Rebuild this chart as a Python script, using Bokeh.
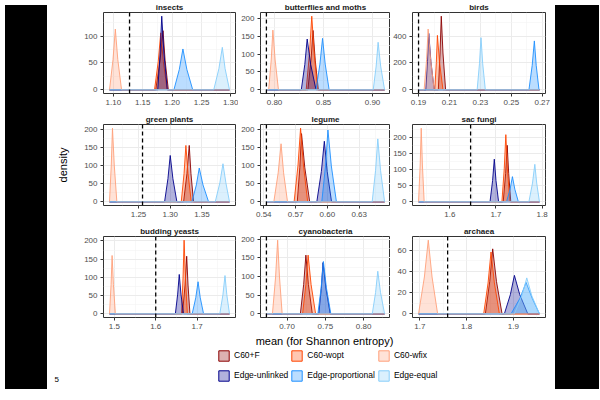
from bokeh.plotting import figure
from bokeh.models import (Range1d, FixedTicker, PrintfTickFormatter, ColumnDataSource,
                          Legend, LegendItem, Span, Div, Label)
from bokeh.layouts import row, column
from bokeh.embed import file_html
from bokeh.resources import INLINE

FONT = "Liberation Sans"

panels = ["insects", "butterflies and moths", "birds",
          "green plants", "legume", "sac fungi",
          "budding yeasts", "cyanobacteria", "archaea"]
models = ["C60+F", "C60-wopt", "C60-wfix", "Edge-unlinked", "Edge-proportional", "Edge-equal"]

# density grid range per panel and dashed reference value
range_lo = [1.0935, 0.7917, 0.1900, 1.2042, 0.5425, 1.5321, 1.4882, 0.6730, 1.6971]
range_hi = [1.2975, 0.9123, 0.2682, 1.3935, 0.6539, 1.7943, 1.7784, 0.8275, 1.9557]
ref_line = [1.1276, 0.7917, 0.1900, 1.2563, 0.5425, 1.6450, 1.6000, 0.6730, 1.7593]

# each curve: (left foot, left half-height, peak, right half-height, right foot, peak density)
c60_f = [(1.1721, 1.1795, 1.1845, 1.1880, 1.1935, 110), (0.8340, 0.8372, 0.8393, 0.8415, 0.8447, 166),
         (0.2028, 0.2039, 0.2047, 0.2058, 0.2075, 548), (1.3211, 1.3264, 1.3300, 1.3327, 1.3368, 157),
         (0.5716, 0.5740, 0.5756, 0.5787, 0.5833, 188), (1.7157, 1.7210, 1.7243, 1.7276, 1.7321, 175),
         (1.6647, 1.6709, 1.6749, 1.6781, 1.6827, 158), (0.7174, 0.7217, 0.7246, 0.7279, 0.7330, 157),
         (1.8400, 1.8494, 1.8557, 1.8637, 1.8757, 61.5)]
c60_wopt = [(1.1700, 1.1764, 1.1806, 1.1850, 1.1915, 106), (0.8323, 0.8357, 0.8380, 0.8404, 0.8440, 206),
            (0.2005, 0.2015, 0.2022, 0.2036, 0.2058, 405), (1.3174, 1.3218, 1.3247, 1.3281, 1.3332, 157),
            (0.5686, 0.5723, 0.5747, 0.5774, 0.5814, 203), (1.7129, 1.7180, 1.7214, 1.7248, 1.7300, 208),
            (1.6624, 1.6661, 1.6686, 1.6718, 1.6765, 202), (0.7203, 0.7246, 0.7275, 0.7314, 0.7373, 157),
            (1.8364, 1.8458, 1.8521, 1.8593, 1.8700, 58.5)]
c60_wfix = [(1.0935, 1.0995, 1.1034, 1.1076, 1.1140, 113), (0.7940, 0.7966, 0.7983, 0.8006, 0.8040, 167),
            (0.1936, 0.1952, 0.1962, 0.1978, 0.2001, 452), (1.2042, 1.2070, 1.2089, 1.2117, 1.2158, 205),
            (0.5495, 0.5536, 0.5563, 0.5587, 0.5624, 160), (1.5321, 1.5356, 1.5379, 1.5405, 1.5443, 228),
            (1.4882, 1.4920, 1.4945, 1.4977, 1.5024, 160), (0.6809, 0.6850, 0.6877, 0.6901, 0.6936, 197),
            (1.6971, 1.7096, 1.7179, 1.7260, 1.7379, 69.7)]
edge_unlinked = [(1.1755, 1.1796, 1.1823, 1.1860, 1.1918, 137), (0.8273, 0.8309, 0.8333, 0.8369, 0.8423, 142),
                 (0.1947, 0.1958, 0.1966, 0.1980, 0.2001, 420), (1.2911, 1.2964, 1.3000, 1.3042, 1.3105, 129),
                 (0.5900, 0.5943, 0.5971, 0.5998, 0.6039, 167), (1.6871, 1.6927, 1.6964, 1.7000, 1.7057, 132),
                 (1.6475, 1.6531, 1.6569, 1.6610, 1.6671, 108), (0.7415, 0.7448, 0.7470, 0.7508, 0.7564, 137),
                 (1.8807, 1.8935, 1.9021, 1.9135, 1.9307, 36.4)]
edge_proportional = [(1.2030, 1.2122, 1.2183, 1.2250, 1.2350, 76), (0.8423, 0.8463, 0.8490, 0.8517, 0.8557, 144),
                     (0.2614, 0.2635, 0.2649, 0.2661, 0.2679, 364), (1.3342, 1.3412, 1.3458, 1.3517, 1.3605, 94),
                     (0.5947, 0.5982, 0.6005, 0.6037, 0.6085, 198), (1.7229, 1.7306, 1.7357, 1.7409, 1.7486, 78),
                     (1.6882, 1.6968, 1.7024, 1.7077, 1.7157, 88), (0.7403, 0.7446, 0.7475, 0.7514, 0.7572, 140),
                     (1.8950, 1.9142, 1.9271, 1.9400, 1.9557, 29.7)]
edge_equal = [(1.2707, 1.2795, 1.2853, 1.2900, 1.2975, 79), (0.9007, 0.9037, 0.9057, 0.9083, 0.9123, 133),
              (0.2279, 0.2294, 0.2304, 0.2315, 0.2332, 388), (1.3710, 1.3783, 1.3832, 1.3878, 1.3935, 106),
              (0.6422, 0.6454, 0.6475, 0.6501, 0.6539, 173.5), (1.7714, 1.7792, 1.7843, 1.7883, 1.7943, 116),
              (1.7549, 1.7625, 1.7675, 1.7719, 1.7784, 105), (0.8114, 0.8157, 0.8186, 0.8222, 0.8275, 114),
              (1.9021, 1.9180, 1.9286, 1.9394, 1.9557, 34)]

x_ticks = [[1.10, 1.15, 1.20, 1.25, 1.30], [0.80, 0.85, 0.90], [0.19, 0.21, 0.23, 0.25, 0.27],
           [1.25, 1.30, 1.35], [0.54, 0.57, 0.60, 0.63], [1.6, 1.7, 1.8],
           [1.5, 1.6, 1.7], [0.70, 0.75, 0.80], [1.7, 1.8, 1.9]]
x_fmt = ["%.2f", "%.2f", "%.2f", "%.2f", "%.2f", "%.1f", "%.1f", "%.2f", "%.1f"]
y_ticks = [[0, 50, 100], [0, 50, 100, 150, 200], [0, 200, 400],
           [0, 50, 100, 150, 200], [0, 50, 100, 150, 200], [0, 50, 100, 150, 200],
           [0, 50, 100, 150, 200], [0, 50, 100, 150, 200], [0, 20, 40, 60]]

curves = {"C60+F": c60_f, "C60-wopt": c60_wopt, "C60-wfix": c60_wfix,
          "Edge-unlinked": edge_unlinked, "Edge-proportional": edge_proportional,
          "Edge-equal": edge_equal}
colors = {"C60+F": "#8B0000", "C60-wopt": "#FF4500", "C60-wfix": "#FFA07A",
          "Edge-unlinked": "#00008B", "Edge-proportional": "#1E90FF", "Edge-equal": "#87CEFA"}
draw_order = ["C60+F", "C60-wopt", "Edge-unlinked", "Edge-proportional", "C60-wfix", "Edge-equal"]

col_w = [186, 152, 160]
col_left = [51, 20, 22]
col_right = [3, 0, 5]
row_h = [112, 112, 109]
row_bottom = [19, 19, 16]


def minors(t):
    step = t[1] - t[0]
    ext = [t[0] - step] + list(t) + [t[-1] + step]
    return [(a + b) / 2 for a, b in zip(ext[:-1], ext[1:])]


def make_panel(i):
    r, c = divmod(i, 3)
    lo, hi = range_lo[i], range_hi[i]
    pad = 0.05 * (hi - lo)
    top = max(curves[m][i][5] for m in models)
    p = figure(width=col_w[c], height=row_h[r],
               x_range=Range1d(lo - pad, hi + pad),
               y_range=Range1d(-0.05 * top, 1.05 * top),
               output_backend="svg", toolbar_location=None,
               min_border_left=col_left[c], min_border_right=col_right[c],
               min_border_top=10, min_border_bottom=row_bottom[r],
               title=panels[i])
    p.title.align = "center"
    p.title.text_font = FONT
    p.title.text_font_size = "8px"
    p.title.text_font_style = "bold"
    p.title.text_color = "#1A1A1A"
    p.title.standoff = 1
    p.title.offset = 0
    p.background_fill_color = "white"
    p.border_fill_color = "white"
    p.outline_line_color = "#333333"
    p.outline_line_width = 1

    p.xaxis.ticker = FixedTicker(ticks=x_ticks[i], minor_ticks=minors(x_ticks[i]))
    p.yaxis.ticker = FixedTicker(ticks=y_ticks[i], minor_ticks=minors(y_ticks[i]))
    p.xaxis.formatter = PrintfTickFormatter(format=x_fmt[i])
    p.yaxis.formatter = PrintfTickFormatter(format="%d")
    for ax in (p.xaxis, p.yaxis):
        ax.axis_line_color = None
        ax.major_tick_line_color = "#333333"
        ax.major_tick_out = 3
        ax.major_tick_in = 0
        ax.minor_tick_line_color = None
        ax.major_label_text_font = FONT
        ax.major_label_text_font_size = "8px"
        ax.major_label_text_color = "#4D4D4D"
        ax.major_label_standoff = 2
    for g in (p.xgrid, p.ygrid):
        g.grid_line_color = "#EBEBEB"
        g.grid_line_width = 1
        g.minor_grid_line_color = "#F3F3F3"
        g.minor_grid_line_width = 0.6

    for m in draw_order:
        lf, lh, pk, rh, rf, h = curves[m][i]
        src = ColumnDataSource(dict(x=[lo, lf, lh, pk, rh, rf, hi],
                                    y=[0, 0, h / 2, h, h / 2, 0, 0]))
        p.varea(x="x", y1=0, y2="y", source=src, fill_color=colors[m], fill_alpha=0.3)
        p.line(x="x", y="y", source=src, line_color=colors[m], line_width=0.9)

    p.add_layout(Span(location=ref_line[i], dimension="height", line_color="black",
                      line_dash="4 3", line_width=1.3))
    if i == 3:
        p.yaxis.axis_label = "density"
        p.yaxis.axis_label_text_font = FONT
        p.yaxis.axis_label_text_font_size = "11px"
        p.yaxis.axis_label_text_font_style = "normal"
        p.yaxis.axis_label_text_color = "black"
        p.yaxis.axis_label_standoff = 12
    return p


figs = [make_panel(i) for i in range(9)]

# legend + x-axis title strip (legend swatches use placeholder quads outside the visible range)
leg_h = 384 - sum(row_h)
leg = figure(width=498, height=leg_h, x_range=Range1d(0, 1), y_range=Range1d(0, 1),
             x_axis_type=None, y_axis_type=None, output_backend="svg",
             toolbar_location=None, min_border=0)
leg.outline_line_color = None
leg.background_fill_color = "white"
leg.border_fill_color = "white"
leg.xgrid.visible = False
leg.ygrid.visible = False
items = []
for m in models:
    rnd = leg.quad(left=[5], right=[6], bottom=[5], top=[6], fill_color=colors[m],
                   fill_alpha=0.3, line_color=colors[m], line_width=1)
    items.append(LegendItem(label=m, renderers=[rnd]))
legend = Legend(items=items, orientation="horizontal", ncols=3, location=(165, 0),
                glyph_width=13, glyph_height=13, label_height=18, label_standoff=4,
                spacing=2, padding=0, margin=0, border_line_color=None,
                background_fill_alpha=0, label_text_font=FONT, label_text_font_size="8.5px",
                label_text_color="black")
leg.add_layout(legend)
leg.add_layout(Label(x=272, y=leg_h - 7, x_units="screen", y_units="screen",
                     text="mean (for Shannon entropy)", text_align="center",
                     text_baseline="middle", text_font=FONT, text_font_size="11px",
                     text_color="black"))
leg.add_layout(Label(x=2, y=3, x_units="screen", y_units="screen", text="5",
                     text_align="left", text_baseline="bottom", text_font=FONT,
                     text_font_size="8px", text_color="black"))

inner = column(row(*figs[0:3]), row(*figs[3:6]), row(*figs[6:9]), leg)
left_bar = Div(text="", width=42, height=384, styles={"background-color": "black"})
right_bar = Div(text="", width=44, height=384, styles={"background-color": "black"})
layout = row(left_bar, inner, right_bar)

open("out.html", "w").write(file_html(layout, INLINE))
